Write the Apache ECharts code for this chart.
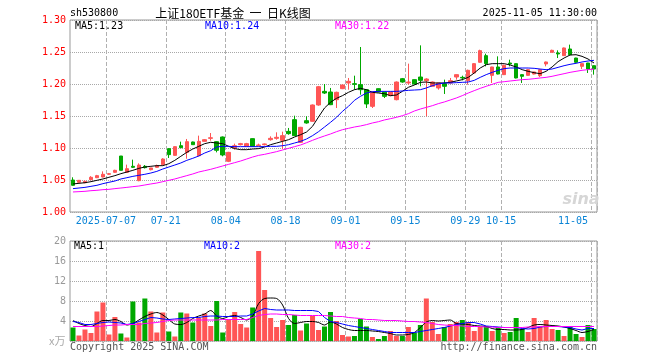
<!DOCTYPE html>
<html><head><meta charset="utf-8">
<script src="https://cdn.jsdelivr.net/npm/echarts@6/dist/echarts.min.js"></script>
<style>html,body{margin:0;padding:0;background:#fff}#c{width:660px;height:360px}</style>
</head><body><div id="c"></div>
<script>
const dates = [
'2025-06-27','2025-06-30',
'2025-07-01','2025-07-02','2025-07-03','2025-07-04','2025-07-07','2025-07-08','2025-07-09','2025-07-10','2025-07-11',
'2025-07-14','2025-07-15','2025-07-16','2025-07-17','2025-07-18','2025-07-21','2025-07-22','2025-07-23','2025-07-24','2025-07-25',
'2025-07-28','2025-07-29','2025-07-30','2025-07-31',
'2025-08-01','2025-08-04','2025-08-05','2025-08-06','2025-08-07','2025-08-08','2025-08-11','2025-08-12','2025-08-13','2025-08-14','2025-08-15',
'2025-08-18','2025-08-19','2025-08-20','2025-08-21','2025-08-22','2025-08-25','2025-08-26','2025-08-27','2025-08-28','2025-08-29',
'2025-09-01','2025-09-02','2025-09-03','2025-09-04','2025-09-05','2025-09-08','2025-09-09','2025-09-10','2025-09-11','2025-09-12',
'2025-09-15','2025-09-16','2025-09-17','2025-09-18','2025-09-19','2025-09-22','2025-09-23','2025-09-24','2025-09-25','2025-09-26',
'2025-09-29','2025-09-30',
'2025-10-09','2025-10-10','2025-10-13','2025-10-14','2025-10-15','2025-10-16','2025-10-17','2025-10-20','2025-10-21','2025-10-22',
'2025-10-23','2025-10-24','2025-10-27','2025-10-28','2025-10-29','2025-10-30','2025-10-31',
'2025-11-03','2025-11-04','2025-11-05'];

const tickDates = ['2025-07-07','2025-07-21','2025-08-04','2025-08-18','2025-09-01','2025-09-15','2025-09-29','2025-10-15','2025-11-05'];
const tickLabels = ['2025-07-07','07-21','08-04','08-18','09-01','09-15','09-29','10-15','11-05'];

// [open, close, low, high]
const ohlc = [
[1.0500,1.0417,1.0410,1.0542],[1.0464,1.0495,1.0458,1.0500],[1.0458,1.0479,1.0450,1.0490],[1.0505,1.0542,1.0500,1.0560],
[1.0536,1.0568,1.0530,1.0580],[1.0547,1.0589,1.0540,1.0635],[1.0589,1.0599,1.0580,1.0610],[1.0620,1.0651,1.0610,1.0660],
[1.0875,1.0651,1.0650,1.0875],[1.0620,1.0677,1.0620,1.0740],[1.0714,1.0698,1.0688,1.0818],[1.0490,1.0734,1.0480,1.0760],
[1.0714,1.0693,1.0680,1.0734],[1.0661,1.0688,1.0650,1.0690],[1.0698,1.0724,1.0690,1.0740],[1.0740,1.0828,1.0730,1.0840],
[1.0990,1.0896,1.0844,1.0995],[1.0885,1.1021,1.0880,1.1025],[1.1036,1.1005,1.1000,1.1099],[1.0932,1.1099,1.0833,1.1141],
[1.1094,1.1052,1.1050,1.1100],[1.0880,1.1104,1.0870,1.1193],[1.1104,1.1130,1.1100,1.1140],[1.1151,1.1160,1.1115,1.1234],
[1.1099,1.0964,1.0932,1.1105],[1.1172,1.0891,1.0870,1.1180],[1.0792,1.0932,1.0780,1.0940],[1.1005,1.1036,1.0974,1.1068],
[1.1052,1.1068,1.1040,1.1080],[1.1026,1.1068,1.1020,1.1080],[1.1146,1.1026,1.1020,1.1150],[1.1036,1.1047,1.1030,1.1068],
[1.1052,1.1063,1.1040,1.1070],[1.1130,1.1151,1.1115,1.1182],[1.1151,1.1167,1.1130,1.1245],[1.1120,1.1193,1.0984,1.1255],
[1.1260,1.1224,1.1208,1.1313],[1.1443,1.1193,1.1190,1.1505],[1.1089,1.1323,1.1078,1.1330],[1.1427,1.1391,1.1380,1.1495],
[1.1417,1.1672,1.1410,1.1680],[1.1672,1.1958,1.1660,1.1970],[1.1885,1.1859,1.1844,1.2000],[1.1875,1.1677,1.1670,1.1938],
[1.1755,1.1870,1.1625,1.1880],[1.1927,1.1984,1.1920,1.1990],[1.2016,1.2042,1.1911,1.2094],[1.2005,1.1995,1.1911,1.2130],
[1.1990,1.1911,1.1833,1.2578],[1.1911,1.1688,1.1625,1.1920],[1.1651,1.1875,1.1625,1.1880],[1.1927,1.1875,1.1870,1.1930],
[1.1875,1.1807,1.1781,1.1880],[1.1818,1.1875,1.1810,1.1880],[1.1755,1.2031,1.1745,1.2040],[1.2083,1.2031,1.2020,1.2094],
[1.2016,1.2031,1.1990,1.2318],[1.2068,1.2000,1.1990,1.2070],[1.2109,1.2057,1.1964,1.2604],[1.2052,1.2078,1.1495,1.2090],
[1.1964,1.2031,1.1960,1.2040],[1.1938,1.2016,1.1911,1.2020],[1.2005,1.1964,1.1844,1.2068],[1.2016,1.2052,1.2010,1.2094],
[1.2109,1.2146,1.2068,1.2150],[1.2104,1.2094,1.2057,1.2130],[1.2052,1.2214,1.1990,1.2224],[1.2172,1.2318,1.2170,1.2325],
[1.2339,1.2521,1.2330,1.2536],[1.2443,1.2318,1.2276,1.2474],[1.2135,1.2266,1.2016,1.2270],[1.2266,1.2156,1.2150,1.2432],
[1.2146,1.2292,1.2140,1.2300],[1.2328,1.2313,1.2276,1.2380],[1.2318,1.2094,1.2088,1.2320],[1.2146,1.2120,1.2016,1.2150],
[1.2135,1.2224,1.2130,1.2230],[1.2156,1.2188,1.2150,1.2190],[1.2130,1.2224,1.2110,1.2230],[1.2313,1.2344,1.2276,1.2350],
[1.2495,1.2526,1.2495,1.2536],[1.2484,1.2469,1.2406,1.2526],[1.2443,1.2563,1.2440,1.2570],[1.2547,1.2458,1.2450,1.2615],
[1.2406,1.2339,1.2330,1.2410],[1.2276,1.2318,1.2234,1.2320],[1.2328,1.2234,1.2172,1.2330],[1.2286,1.2234,1.2146,1.2290]];

const ma5 = [1.0438,1.0448,1.0458,1.0474,1.0495,1.0516,1.0542,1.0568,1.0599,1.0625,
1.0651,1.0682,1.0703,1.0714,1.0724,1.0724,1.0755,1.0807,1.0870,1.0932,
1.0984,1.1026,1.1068,1.1089,1.1078,1.1068,1.1026,1.0990,1.0974,1.0974,
1.0984,1.0990,1.1016,1.1052,1.1078,1.1104,1.1130,1.1172,1.1208,1.1250,
1.1339,1.1484,1.1625,1.1714,1.1776,1.1818,1.1870,1.1911,1.1932,1.1911,
1.1870,1.1859,1.1849,1.1818,1.1828,1.1885,1.1948,1.1984,1.2026,1.2031,
1.2016,1.2016,1.2016,1.2026,1.2047,1.2068,1.2104,1.2172,1.2250,1.2302,
1.2318,1.2318,1.2318,1.2297,1.2266,1.2224,1.2198,1.2177,1.2161,1.2198,
1.2266,1.2349,1.2406,1.2453,1.2458,1.2432,1.2391,1.2328];

const ma10 = [1.0365,1.0375,1.0385,1.0401,1.0417,1.0443,1.0464,1.0484,1.0516,1.0536,
1.0557,1.0573,1.0589,1.0609,1.0635,1.0672,1.0703,1.0734,1.0766,1.0807,
1.0839,1.0875,1.0922,1.0958,1.1016,1.1026,1.1026,1.1021,1.1021,1.1021,
1.1021,1.1021,1.1021,1.1026,1.1026,1.1036,1.1052,1.1078,1.1104,1.1141,
1.1193,1.1255,1.1328,1.1401,1.1479,1.1573,1.1651,1.1745,1.1807,1.1859,
1.1880,1.1885,1.1885,1.1885,1.1885,1.1891,1.1901,1.1906,1.1911,1.1938,
1.1974,1.2000,1.2016,1.2016,1.2021,1.2026,1.2031,1.2057,1.2104,1.2146,
1.2182,1.2214,1.2240,1.2250,1.2250,1.2250,1.2250,1.2245,1.2234,1.2224,
1.2234,1.2260,1.2286,1.2307,1.2323,1.2344,1.2359,1.2370];

const ma30 = [1.0313,1.0318,1.0323,1.0333,1.0339,1.0349,1.0354,1.0365,1.0375,1.0385,
1.0396,1.0406,1.0422,1.0438,1.0453,1.0474,1.0495,1.0516,1.0542,1.0568,
1.0594,1.0625,1.0646,1.0667,1.0693,1.0719,1.0745,1.0771,1.0797,1.0828,
1.0859,1.0885,1.0901,1.0922,1.0943,1.0969,1.0995,1.1021,1.1047,1.1083,
1.1120,1.1156,1.1188,1.1219,1.1255,1.1286,1.1307,1.1328,1.1344,1.1365,
1.1391,1.1411,1.1438,1.1458,1.1479,1.1505,1.1536,1.1578,1.1609,1.1635,
1.1661,1.1693,1.1719,1.1750,1.1781,1.1818,1.1859,1.1896,1.1932,1.1964,
1.1995,1.2026,1.2036,1.2047,1.2057,1.2068,1.2073,1.2083,1.2094,1.2104,
1.2120,1.2141,1.2161,1.2182,1.2198,1.2214,1.2224,1.2234];

const volume = [2.7,1.1,2.3,1.6,5.9,7.7,1.3,4.8,1.5,0.7,
7.9,3.7,8.5,5.9,1.7,5.7,1.9,0.9,5.7,5.5,
3.7,4.6,5.5,3.0,8.0,1.7,4.3,5.8,3.4,2.7,
6.7,18.0,10.2,4.6,2.8,4.2,3.2,5.2,2.1,3.5,
5.0,2.2,2.9,5.8,4.0,1.2,0.9,1.0,4.4,2.9,
0.8,0.4,1.0,2.0,1.0,1.0,2.8,1.7,3.2,8.5,
3.8,1.4,2.8,3.4,3.8,4.2,3.8,2.0,2.8,3.0,
2.0,2.8,1.6,1.8,4.6,2.4,1.8,4.6,2.8,4.2,
2.4,2.2,1.0,3.0,1.4,0.8,3.2,2.4];

const volMa5 = [4.1,3.5,3.1,2.9,3.5,4.1,4.1,4.3,3.9,3.2,
3.5,4.2,4.9,5.4,5.7,5.2,4.3,3.4,3.3,3.7,
4.5,5.0,5.4,6.1,5.0,4.5,4.9,5.1,4.7,4.2,
5.0,7.5,8.5,8.6,8.5,7.2,4.5,3.5,3.7,3.9,
3.9,3.7,3.2,3.8,3.4,2.7,2.3,2.1,2.1,2.1,
2.0,1.9,1.7,1.5,1.2,1.2,1.3,1.7,2.7,3.8,
4.1,4.0,4.1,4.2,3.5,3.4,3.3,3.1,3.0,2.9,
2.5,2.3,2.3,2.2,2.2,2.3,2.7,3.2,3.3,3.2,
3.1,3.0,2.8,2.5,2.1,1.7,1.9,2.3];

const volMa10 = [3.9,3.7,3.3,3.3,3.5,3.7,3.8,3.7,3.6,3.3,
3.5,3.9,4.3,4.7,4.6,4.4,4.3,4.4,4.5,4.6,
4.7,4.7,4.9,5.0,5.0,4.9,4.9,4.9,5.0,5.0,
5.4,6.0,6.5,6.3,6.2,6.2,6.2,6.1,6.1,6.1,
6.1,5.9,4.7,3.9,3.7,3.4,3.1,2.9,2.7,2.5,
2.3,2.1,1.9,1.7,1.7,1.7,1.7,1.7,1.9,2.1,
2.3,2.5,2.7,3.0,3.3,3.5,3.7,3.7,3.4,3.0,
2.9,2.8,2.7,2.7,2.7,2.5,2.4,2.5,2.8,2.9,
2.9,2.9,2.8,2.7,2.4,2.2,2.5,2.5];

const volMa30 = [2.9,2.9,2.9,2.9,2.9,3.0,3.1,3.2,3.2,3.3,
3.3,3.3,3.5,3.6,3.7,3.9,4.1,4.2,4.2,4.2,
4.2,4.2,4.2,4.2,4.2,4.3,4.3,4.3,4.3,4.3,
4.7,5.1,5.3,5.4,5.4,5.3,5.3,5.2,5.1,5.1,
5.1,5.1,5.1,5.0,4.9,4.9,4.7,4.6,4.5,4.3,
4.3,4.2,4.1,4.1,4.1,4.0,3.9,3.9,3.8,3.7,
3.5,3.3,3.2,3.1,3.1,3.0,2.9,2.9,2.9,2.8,
2.8,2.7,2.7,2.7,2.7,2.7,2.8,2.8,2.9,2.9,
2.9,2.9,2.9,2.9,2.9,2.9,2.9,2.9];

const RED = '#ff5555', GREEN = '#00a800';
const MONO = '"DejaVu Sans Mono", "Liberation Mono", monospace';
const isTick = (idx, val) => tickDates.indexOf(val) >= 0;
function hLine() { return {show: true, lineStyle: {color: '#a8a8a8', type: 'dotted', width: 1}}; }
function vLine() { return {show: true, interval: isTick, lineStyle: {color: '#b0b0b0', type: 'dashed', width: 1}}; }

const chart = echarts.init(document.getElementById('c'), null, {renderer: 'canvas'});
function txt(x, y, text, fill, font, align) {
  return {type: 'text', x: x, y: y, silent: true, z: 10,
    style: {text: text, fill: fill, font: font, textAlign: align || 'left', textVerticalAlign: 'middle', align: align || 'left', verticalAlign: 'middle'}};
}
chart.setOption({
  animation: false,
  backgroundColor: '#fff',
  grid: [
    {left: 70, top: 20, width: 527, height: 192, show: true, borderColor: '#999', borderWidth: 1, backgroundColor: 'rgba(0,0,0,0)'},
    {left: 70, top: 241, width: 527, height: 100, show: true, borderColor: '#999', borderWidth: 1, backgroundColor: 'rgba(0,0,0,0)'}
  ],
  xAxis: [
    {type: 'category', gridIndex: 0, data: dates, boundaryGap: true,
      axisLine: {show: false}, axisTick: {show: false}, splitLine: vLine(),
      axisLabel: {show: true, interval: isTick, color: '#0a84d6', fontFamily: MONO, fontSize: 10, margin: 4,
        padding: [0, 6, 0, 0], alignMaxLabel: 'right',
        formatter: (v) => tickLabels[tickDates.indexOf(v)]}},
    {type: 'category', gridIndex: 1, data: dates, boundaryGap: true,
      axisLine: {show: false}, axisTick: {show: false}, axisLabel: {show: false}, splitLine: vLine()}
  ],
  yAxis: [
    {type: 'value', gridIndex: 0, min: 1.0, max: 1.3, interval: 0.05,
      axisLine: {show: false}, axisTick: {show: false}, splitLine: hLine(),
      axisLabel: {color: '#ff0000', fontFamily: MONO, fontSize: 10, margin: 4, formatter: v => v.toFixed(2)}},
    {type: 'value', gridIndex: 1, min: 0, max: 20, interval: 4,
      axisLine: {show: false}, axisTick: {show: false}, splitLine: hLine(),
      axisLabel: {color: '#999', fontFamily: MONO, fontSize: 10, margin: 4,
        formatter: v => v === 0 ? '' : String(v)}}
  ],
  series: [
    {type: 'candlestick', xAxisIndex: 0, yAxisIndex: 0, data: ohlc.map(d => [d[0], d[1], d[2], d[3]]),
      barWidth: 4,
      itemStyle: {color: RED, color0: GREEN, borderColor: RED, borderColor0: GREEN, borderWidth: 1}},
    {type: 'line', xAxisIndex: 0, yAxisIndex: 0, data: ma5, symbol: 'none', lineStyle: {color: '#000', width: 1}},
    {type: 'line', xAxisIndex: 0, yAxisIndex: 0, data: ma10, symbol: 'none', lineStyle: {color: '#0000ff', width: 1}},
    {type: 'line', xAxisIndex: 0, yAxisIndex: 0, data: ma30, symbol: 'none', lineStyle: {color: '#ff00ff', width: 1}},
    {type: 'bar', xAxisIndex: 1, yAxisIndex: 1, barWidth: 5,
      data: volume.map((v, i) => ({value: v, itemStyle: {color: ohlc[i][1] >= ohlc[i][0] ? RED : GREEN}}))},
    {type: 'line', xAxisIndex: 1, yAxisIndex: 1, data: volMa5, symbol: 'none', smooth: 0.3, lineStyle: {color: '#000', width: 1}},
    {type: 'line', xAxisIndex: 1, yAxisIndex: 1, data: volMa10, symbol: 'none', lineStyle: {color: '#0000ff', width: 1}},
    {type: 'line', xAxisIndex: 1, yAxisIndex: 1, data: volMa30, symbol: 'none', lineStyle: {color: '#ff00ff', width: 1}}
  ],
  graphic: [
    txt(70, 13.5, 'sh530800', '#000', '10px ' + MONO),
    txt(233, 13.5, '上证180ETF基金  一  日K线图', '#000', '12px "Noto Sans CJK SC"', 'center'),
    txt(597, 13.5, '2025-11-05 11:30:00', '#000', '10px ' + MONO, 'right'),
    txt(75, 26.5, 'MA5:1.23', '#000', '10px ' + MONO),
    txt(205, 26.5, 'MA10:1.24', '#0000ff', '10px ' + MONO),
    txt(335, 26.5, 'MA30:1.22', '#ff00ff', '10px ' + MONO),
    txt(74, 246.5, 'MA5:1', '#000', '10px ' + MONO),
    txt(204, 246.5, 'MA10:2', '#0000ff', '10px ' + MONO),
    txt(335, 246.5, 'MA30:2', '#ff00ff', '10px ' + MONO),
    txt(49, 341, 'x万', '#aaaaaa', '11px "Noto Sans CJK SC"'),
    txt(70, 347, 'Copyright 2025 SINA.COM', '#555', '10px ' + MONO),
    txt(597, 347, 'http://finance.sina.com.cn', '#555', '10px ' + MONO, 'right'),
    txt(581, 200, 'sina', '#d6d6d6', 'italic bold 16px "DejaVu Sans"', 'center')
  ]
});
</script>
</body></html>
